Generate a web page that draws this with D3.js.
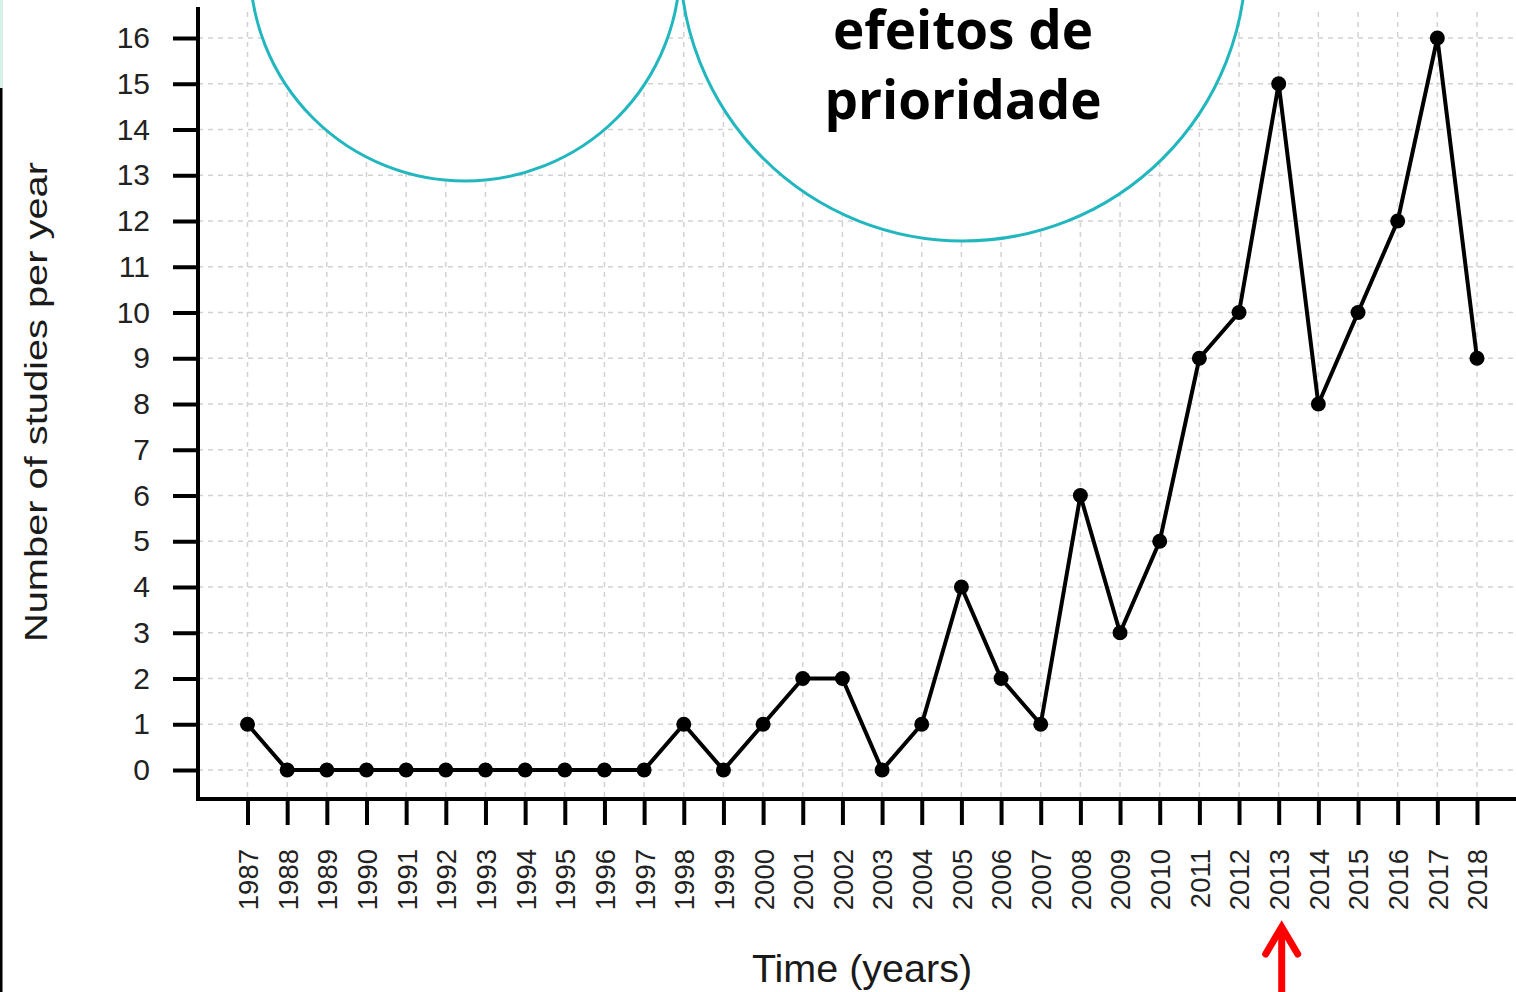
<!DOCTYPE html>
<html>
<head>
<meta charset="utf-8">
<script src="https://cdn.jsdelivr.net/npm/d3@7"></script>
<style>
  html, body { margin: 0; padding: 0; background: #fff; overflow: hidden; }
  svg { display: block; }
</style>
</head>
<body>
<svg id="chart" width="1516" height="992"></svg>
<script>
const years = [1987,1988,1989,1990,1991,1992,1993,1994,1995,1996,1997,1998,1999,2000,2001,2002,2003,2004,2005,2006,2007,2008,2009,2010,2011,2012,2013,2014,2015,2016,2017,2018];
const studies = [1,0,0,0,0,0,0,0,0,0,0,1,0,1,2,2,0,1,4,2,1,6,3,5,9,10,15,8,10,12,16,9];
const yTicks = [0,1,2,3,4,5,6,7,8,9,10,11,12,13,14,15,16];
const xLabel = "Time (years)";
const yLabel = "Number of studies per year";
const bubbleLines = ["efeitos de", "prioridade"];

const svg = d3.select("#chart");
const W = 1516, H = 992;

const x = d3.scaleLinear().domain([1987, 2018]).range([247.5, 1477]);
const y = d3.scaleLinear().domain([0, 16]).range([770, 38]);
const axisX = 198, axisY = 799;

// left decorations
svg.append("rect").attr("x", 0).attr("y", 0).attr("width", 3).attr("height", 88).attr("fill", "#d6f0ea");
svg.append("rect").attr("x", 0).attr("y", 88).attr("width", 2.5).attr("height", H - 88).attr("fill", "#000");

// grid
const grid = svg.append("g").attr("stroke", "#d2d2d2").attr("stroke-width", 1.5).attr("stroke-dasharray", "5,5");
grid.selectAll("line.h").data(yTicks).join("line")
  .attr("x1", axisX).attr("x2", W).attr("y1", d => y(d)).attr("y2", d => y(d));
grid.selectAll("line.v").data(years).join("line")
  .attr("x1", d => x(d)).attr("x2", d => x(d)).attr("y1", 12).attr("y2", axisY);

// bubbles
svg.append("circle").attr("cx", 465).attr("cy", -34).attr("r", 215)
  .attr("fill", "#fff").attr("stroke", "#22b7be").attr("stroke-width", 3);
svg.append("circle").attr("cx", 963).attr("cy", -42).attr("r", 283)
  .attr("fill", "#fff").attr("stroke", "#22b7be").attr("stroke-width", 3);
svg.append("g").selectAll("text").data(bubbleLines).join("text")
  .attr("x", 963).attr("y", (d, i) => 49 + i * 70)
  .attr("text-anchor", "middle")
  .attr("font-family", "'Open Sans', sans-serif").attr("font-weight", 700)
  .attr("font-size", 53).attr("fill", "#000")
  .text(d => d);

// axes
const yAxis = d3.axisLeft(y).tickValues(yTicks).tickSize(25).tickPadding(23).tickFormat(d3.format("d"));
const gy = svg.append("g").attr("transform", `translate(${axisX},0)`).call(yAxis);
gy.select(".domain").remove();
gy.selectAll(".tick line").attr("stroke", "#000").attr("stroke-width", 4);
gy.selectAll(".tick text").attr("font-family", "'Liberation Sans', Arial, sans-serif")
  .attr("font-size", 30).attr("fill", "#222");

const xAxis = d3.axisBottom(x).tickValues(years).tickSize(26).tickFormat(d3.format("d"));
const gx = svg.append("g").attr("transform", `translate(0,${axisY})`).call(xAxis);
gx.select(".domain").remove();
gx.selectAll(".tick line").attr("stroke", "#000").attr("stroke-width", 4);
gx.selectAll(".tick text")
  .attr("font-family", "'Liberation Sans', Arial, sans-serif")
  .attr("font-size", 27.5).attr("fill", "#222")
  .attr("transform", "rotate(-90)")
  .attr("text-anchor", "end")
  .attr("x", -50).attr("y", 0).attr("dy", "0.36em");

// axis lines
svg.append("line").attr("x1", axisX).attr("x2", axisX).attr("y1", 7).attr("y2", axisY + 2)
  .attr("stroke", "#000").attr("stroke-width", 4);
svg.append("line").attr("x1", axisX - 2).attr("x2", W).attr("y1", axisY).attr("y2", axisY)
  .attr("stroke", "#000").attr("stroke-width", 4);

// data line and points
const line = d3.line().x((d, i) => x(years[i])).y(d => y(d));
svg.append("path").datum(studies).attr("d", line)
  .attr("fill", "none").attr("stroke", "#000").attr("stroke-width", 4).attr("stroke-linejoin", "round");
svg.append("g").selectAll("circle").data(studies).join("circle")
  .attr("cx", (d, i) => x(years[i])).attr("cy", d => y(d)).attr("r", 7.5).attr("fill", "#000");

// axis titles
svg.append("text").attr("x", 862).attr("y", 982).attr("text-anchor", "middle")
  .attr("font-family", "'Liberation Sans', Arial, sans-serif").attr("font-size", 39.5).attr("fill", "#1a1a1a")
  .text(xLabel);
svg.append("text").attr("transform", "translate(47,402) rotate(-90)").attr("text-anchor", "middle")
  .attr("font-family", "'Liberation Sans', Arial, sans-serif").attr("font-size", 31).attr("fill", "#1a1a1a")
  .attr("textLength", 480).attr("lengthAdjust", "spacingAndGlyphs")
  .text(yLabel);

// red arrow
const ax = x(2013) + 3;
svg.append("path").attr("d", `M${ax},992 L${ax},930`).attr("stroke", "#ff0000").attr("stroke-width", 7).attr("fill", "none");
svg.append("path").attr("d", `M${ax - 16},954 L${ax},927 L${ax + 16},954`)
  .attr("stroke", "#ff0000").attr("stroke-width", 7).attr("fill", "none")
  .attr("stroke-linecap", "round").attr("stroke-linejoin", "miter");
</script>
</body>
</html>
